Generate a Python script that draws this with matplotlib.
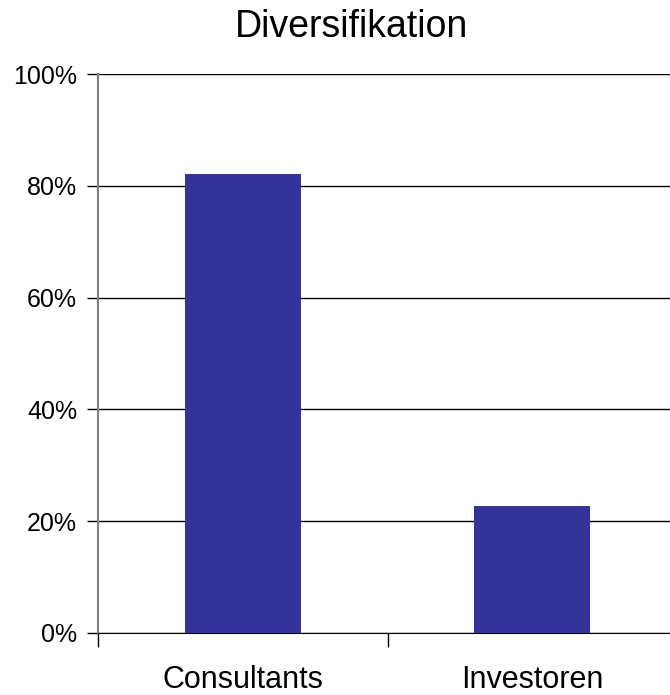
import matplotlib
matplotlib.use("Agg")
import matplotlib.pyplot as plt
from matplotlib.ticker import FixedLocator

plt.rcParams['font.family'] = ['Liberation Sans', 'DejaVu Sans']

# data
categories = ["Consultants", "Investoren"]
values = [82.1, 22.7]
y_ticks = [0, 20, 40, 60, 80, 100]
y_labels = ["0%", "20%", "40%", "60%", "80%", "100%"]

fig = plt.figure(figsize=(6.7, 6.95), dpi=100)
ax = fig.add_axes([98 / 670, 62 / 695, 579 / 670, 559 / 695])

x = list(range(len(categories)))
ax.bar(x, values, width=0.4, color="#333399", zorder=3)

ax.set_xlim(-0.5, len(categories) - 0.5)
ax.set_ylim(0, 100)

ax.set_yticks(y_ticks)
ax.set_yticklabels(y_labels, fontsize=18)
ax.yaxis.grid(True, color="black", linewidth=1.0, zorder=0)

# category labels, ticks sit between categories
ax.set_xticks(x)
ax.set_xticklabels(categories, fontsize=22)
ax.tick_params(axis="x", length=0, pad=23)
ax.xaxis.set_minor_locator(FixedLocator([-0.5, 0.5, 1.5]))
ax.tick_params(axis="x", which="minor", length=10, width=1, color="black")
ax.tick_params(axis="y", length=8, width=1, color="black", pad=7)

for side in ["top", "right"]:
    ax.spines[side].set_visible(False)
ax.spines["left"].set_color("#808080")
ax.spines["left"].set_linewidth(1.5)
ax.spines["bottom"].set_color("black")

fig.text(0.524, 0.961, "Diversifikation", ha="center", va="center", fontsize=27)

fig.savefig("out.png", dpi=100)
